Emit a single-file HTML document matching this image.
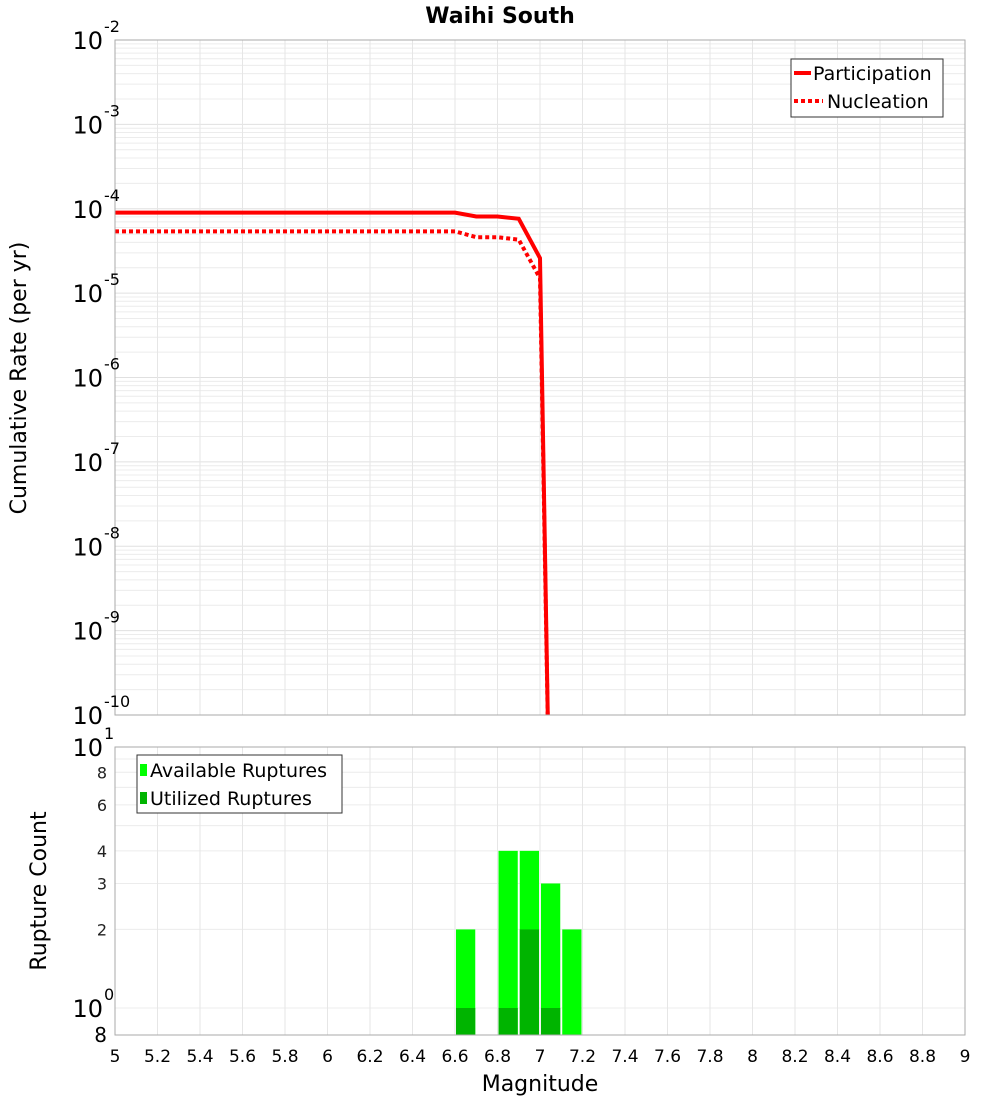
<!DOCTYPE html>
<html><head><meta charset="utf-8"><style>
body{margin:0;background:#fff;font-family:"Liberation Sans","DejaVu Sans",sans-serif}
svg{display:block}
</style></head><body>
<svg id="c" width="1000" height="1100" xmlns="http://www.w3.org/2000/svg" font-family="DejaVu Sans, Liberation Sans, sans-serif"></svg>
<script>
const mags=[5,6.6,6.7,6.8,6.9,7.0,7.05];
const participation=[9e-5,9e-5,8.1e-5,8.1e-5,7.6e-5,2.6e-5,1e-12];
const nucleation=[5.4e-5,5.4e-5,4.6e-5,4.6e-5,4.3e-5,1.5e-5,1e-12];
const binStarts=[6.6,6.8,6.9,7.0,7.1];
const available=[2,4,4,3,2];
const utilized=[1,1,2,1,0];
const xTicks=[5,5.2,5.4,5.6,5.8,6,6.2,6.4,6.6,6.8,7,7.2,7.4,7.6,7.8,8,8.2,8.4,8.6,8.8,9];
const xTickLabels=["5","5.2","5.4","5.6","5.8","6","6.2","6.4","6.6","6.8","7","7.2","7.4","7.6","7.8","8","8.2","8.4","8.6","8.8","9"];
const topExps=[-2,-3,-4,-5,-6,-7,-8,-9,-10];
const botTicks=[8,6,4,3,2];

const svg=document.getElementById('c');
const NS='http://www.w3.org/2000/svg';
function mk(t,a,p){const e=document.createElementNS(NS,t);for(const k in a)e.setAttribute(k,a[k]);(p||svg).appendChild(e);return e;}
const X0=115,X1=965,T0=40,T1=715,B0=747,B1=1035;
const x=m=>X0+(m-5)/4*(X1-X0);
const yT=v=>T0+(-2-Math.log10(v))*(T1-T0)/8;
const BD=261;
const yB=v=>B0+(1-Math.log10(v))*BD;

// top frame
const topG=mk('g',{});


mk('rect',{x:X0,y:T0,width:X1-X0,height:T1-T0,fill:'#fff'},topG);
for(let e=-10;e<-2;e++)for(let k=2;k<=9;k++){const yy=yT(k*Math.pow(10,e));mk('line',{x1:X0,x2:X1,y1:yy,y2:yy,stroke:'#ececec','stroke-width':1},topG);}
topExps.forEach(e=>{const yy=yT(Math.pow(10,e));mk('line',{x1:X0,x2:X1,y1:yy,y2:yy,stroke:'#e0e0e0'},topG);});
xTicks.forEach(m=>{mk('line',{x1:x(m),x2:x(m),y1:T0,y2:T1,stroke:'#e6e6e6'},topG);});
// lines
const clip=mk('clipPath',{id:'tc'});mk('rect',{x:X0,y:T0,width:X1-X0,height:T1-T0},clip);
const pPts=mags.map((m,i)=>x(m)+','+yT(participation[i])).join(' ');
const nPts=mags.map((m,i)=>x(m)+','+yT(nucleation[i])).join(' ');
const nl=mk('polyline',{points:nPts,fill:'none',stroke:'#ff0000','stroke-width':4,'stroke-dasharray':'4,3','clip-path':'url(#tc)'},topG);


const pl=mk('polyline',{points:pPts,fill:'none',stroke:'#ff0000','stroke-width':4,'clip-path':'url(#tc)'},topG);


mk('rect',{x:X0,y:T0,width:X1-X0,height:T1-T0,fill:'none',stroke:'#aaa'},topG);
topExps.forEach(e=>{const yy=yT(Math.pow(10,e));
 const t=mk('text',{x:103,y:yy+9,'text-anchor':'end','font-size':24,fill:'#000'});t.textContent='10';
 
 
 const s=mk('text',{x:104,y:yy-8,'font-size':16,fill:'#000'});s.textContent=String(e);
 
 
});
// legend top
const lg=mk('g',{});


mk('rect',{x:791,y:59,width:152,height:58,fill:'#fff',stroke:'#333'},lg);
mk('line',{x1:794,x2:811,y1:73,y2:73,stroke:'#f00','stroke-width':4},lg);
mk('line',{x1:794,x2:823,y1:101,y2:101,stroke:'#f00','stroke-width':4,'stroke-dasharray':'4,3'},lg);
let t=mk('text',{x:813,y:80,'font-size':19},lg);t.textContent='Participation';
t=mk('text',{x:827,y:108,'font-size':19},lg);t.textContent='Nucleation';

// bottom
const bg=mk('g',{});


mk('rect',{x:X0,y:B0,width:X1-X0,height:B1-B0,fill:'#fff'},bg);
[8,6,4,3,2,1,9,7,5].forEach(v=>{const yy=yB(v);mk('line',{x1:X0,x2:X1,y1:yy,y2:yy,stroke:'#ececec'},bg);});
xTicks.forEach(m=>{mk('line',{x1:x(m),x2:x(m),y1:B0,y2:B1,stroke:'#e6e6e6'},bg);});
binStarts.forEach((m,i)=>{
 const a=mk('rect',{x:x(m)+1,y:yB(available[i]),width:x(m+0.1)-x(m)-2,height:B1-yB(available[i]),fill:'#00ff00'},bg);
 
 
 if(utilized[i]>0){const u=mk('rect',{x:x(m)+1,y:yB(utilized[i]),width:x(m+0.1)-x(m)-2,height:B1-yB(utilized[i]),fill:'#00b400'},bg);
 
 }
});
mk('rect',{x:X0,y:B0,width:X1-X0,height:B1-B0,fill:'none',stroke:'#aaa'},bg);
botTicks.forEach(v=>{const tt=mk('text',{x:107,y:yB(v)+6,'text-anchor':'end','font-size':16,fill:'#222'});tt.textContent=String(v);
 
 });
t=mk('text',{x:103,y:yB(10)+9,'text-anchor':'end','font-size':24});t.textContent='10';
t=mk('text',{x:104,y:yB(10)-8,'font-size':16});t.textContent='1';
t=mk('text',{x:103,y:yB(1)+9,'text-anchor':'end','font-size':24});t.textContent='10';
t=mk('text',{x:104,y:yB(1)-8,'font-size':16});t.textContent='0';
t=mk('text',{x:107,y:1042,'text-anchor':'end','font-size':20});t.textContent='8';
const lb=mk('g',{});


mk('rect',{x:137,y:755,width:205,height:58,fill:'#fff',stroke:'#333'},lb);
mk('rect',{x:140,y:764,width:7,height:12,fill:'#00ff00'},lb);
mk('rect',{x:140,y:792,width:7,height:12,fill:'#00b400'},lb);
t=mk('text',{x:150,y:777,'font-size':19},lb);t.textContent='Available Ruptures';
t=mk('text',{x:150,y:805,'font-size':19},lb);t.textContent='Utilized Ruptures';

// x ticks
xTicks.forEach((m,i)=>{const tt=mk('text',{x:x(m),y:1062,'text-anchor':'middle','font-size':17});tt.textContent=xTickLabels[i];
 
 });
t=mk('text',{x:540,y:1091,'text-anchor':'middle','font-size':22});t.textContent='Magnitude';

t=mk('text',{x:500,y:23,'text-anchor':'middle','font-size':22,'font-weight':'bold'});t.textContent='Waihi South';

t=mk('text',{x:0,y:0,'text-anchor':'middle','font-size':22,transform:'translate(26,378) rotate(-90)'});t.textContent='Cumulative Rate (per yr)';

t=mk('text',{x:0,y:0,'text-anchor':'middle','font-size':22,transform:'translate(46,891) rotate(-90)'});t.textContent='Rupture Count';

</script>
</body></html>
